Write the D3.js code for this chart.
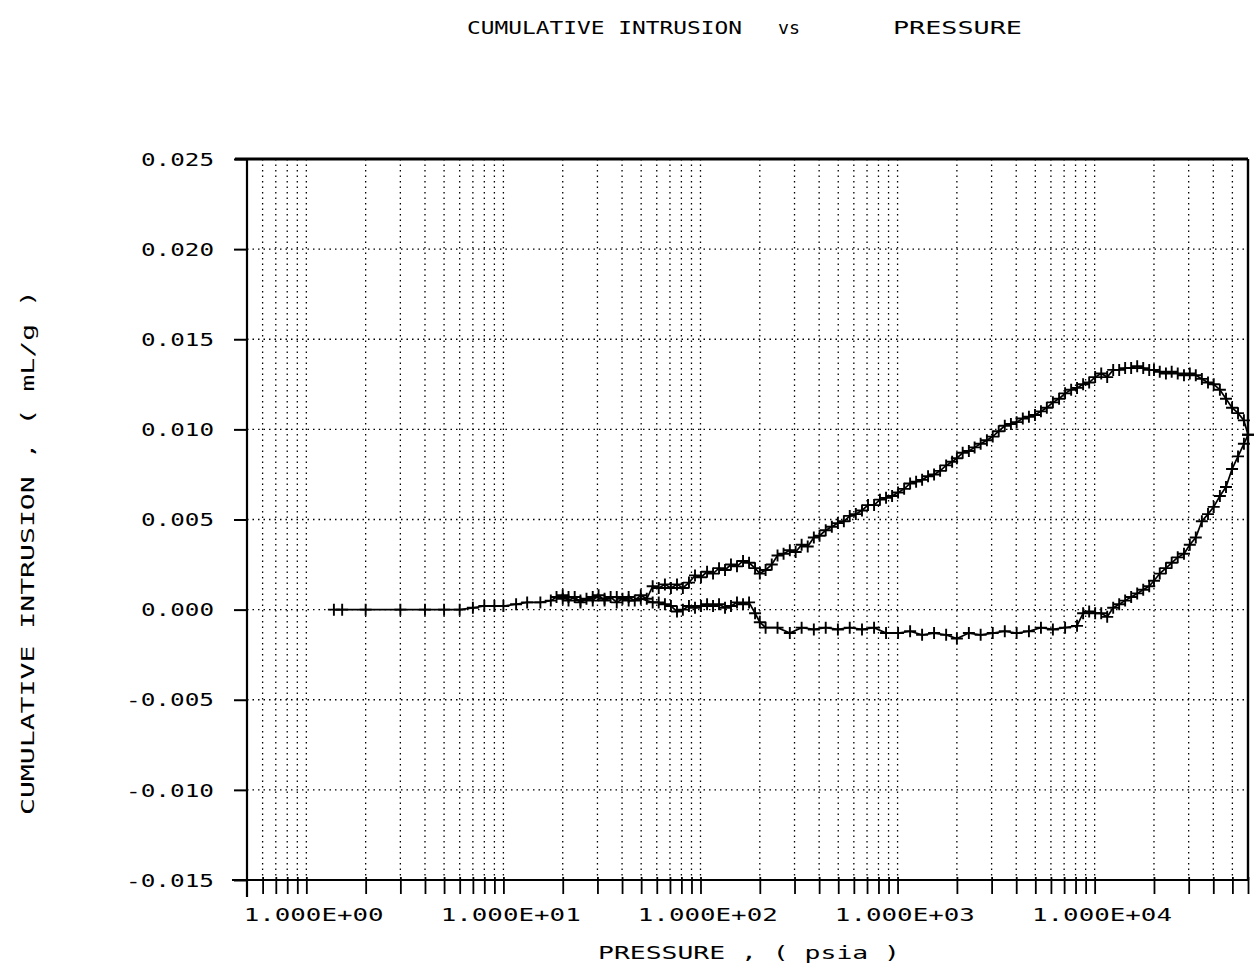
<!DOCTYPE html>
<html>
<head>
<meta charset="utf-8">
<script src="https://cdn.jsdelivr.net/npm/d3@7"></script>
<style>
  body { margin: 0; background: #fff; }
  svg { display: block; }
  text { font-family: "DejaVu Sans Mono", "Liberation Mono", monospace; fill: #000; font-variant-numeric: slashed-zero; }
</style>
</head>
<body>
<svg id="chart" width="1257" height="973"></svg>
<script>
// ---- data -------------------------------------------------------------
const xTickValues = [1, 10, 100, 1000, 10000];
const xTickLabels = ["1.000E+00", "1.000E+01", "1.000E+02", "1.000E+03", "1.000E+04"];
const yTickValues = [-0.015, -0.010, -0.005, 0.000, 0.005, 0.010, 0.015, 0.020, 0.025];
const yTickLabels = ["-0.015", "-0.010", "-0.005", "0.000", "0.005", "0.010", "0.015", "0.020", "0.025"];
const gridMantissas = [1, 1.5, 2, 2.5, 3, 3.5, 4, 4.5, 5];
const gridDecades = [0.1, 1, 10, 100, 1000, 10000];
const pressureRange = [0.25, 30000];
const volumeRange = [-0.015, 0.025];

// intrusion (increasing pressure), psia
const intrusionPressure = [
  0.69, 0.76, 1.0, 1.5, 2.0, 2.5, 3.0, 3.5, 4.0, 4.5, 5.0, 5.8, 6.6, 7.7, 8.7, 9.3,
  10.0, 10.7, 11.5, 12.3, 13.2, 14.2, 15.2, 16.3, 17.5, 18.8, 20.1, 21.6, 23.2, 24.9, 26.7, 28.6,
  30.7, 33.0, 35.4, 38.0, 40.7, 43.7, 46.9, 50.3, 54.0, 57.9, 62.1, 66.6, 71.4, 76.6, 82.2, 88.2, 94.6,
  100, 107, 115, 123, 132, 142, 152, 163, 175, 188, 201, 216, 232, 249, 267, 286,
  307, 330, 354, 380, 407, 437, 469, 503, 540, 579, 621, 666, 714, 766, 822, 882, 946,
  1000, 1070, 1150, 1230, 1320, 1420, 1520, 1630, 1750, 1880, 2010, 2160, 2320, 2490, 2670, 2860,
  3070, 3300, 3540, 3800, 4070, 4370, 4690, 5030, 5400, 5790, 6210, 6660, 7140, 7660, 8220, 8820, 9460,
  10000, 10700, 11500, 12300, 13200, 14200, 15200, 16300, 17500, 18800, 20100, 21600, 23200, 24900,
  26700, 28600, 30000
];
// cumulative intrusion, mL/g
const intrusionVolume = [
  0, 0, 0, 0, 0, 0, 0, 0.0001, 0.0002, 0.0002, 0.0002, 0.0003, 0.0004, 0.0004, 0.0005, 0.0007,
  0.0008, 0.0005, 0.0007, 0.0004, 0.0006, 0.0005, 0.0008, 0.0005, 0.0007, 0.0004, 0.0006, 0.0007, 0.0005, 0.0008, 0.0006, 0.0013,
  0.0012, 0.0014, 0.0012, 0.0014, 0.0012, 0.0015, 0.0019, 0.0018, 0.0021, 0.0020, 0.0023, 0.0022, 0.0025, 0.0024, 0.0027, 0.0026, 0.0023,
  0.0020, 0.0022, 0.0025, 0.0030, 0.0031, 0.0033, 0.0032, 0.0036, 0.0035, 0.0040, 0.0041, 0.0044, 0.0046, 0.0048, 0.0049, 0.0052,
  0.0053, 0.0055, 0.0058, 0.0058, 0.0061, 0.0062, 0.0063, 0.0065, 0.0067, 0.0070, 0.0071, 0.0072, 0.0074, 0.0075, 0.0077, 0.0080, 0.0082,
  0.0084, 0.0087, 0.0088, 0.0090, 0.0092, 0.0094, 0.0096, 0.0099, 0.0102, 0.0103, 0.0104, 0.0106, 0.0107, 0.0108, 0.0110, 0.0112,
  0.0115, 0.0117, 0.0120, 0.0122, 0.0123, 0.0125, 0.0126, 0.0129, 0.0131, 0.0129, 0.0133, 0.0133, 0.0134, 0.0134, 0.0135, 0.0134, 0.0133,
  0.0133, 0.0132, 0.0131, 0.0132, 0.0131, 0.0130, 0.0131, 0.0130, 0.0128, 0.0126, 0.0125, 0.0122, 0.0117, 0.0112,
  0.0109, 0.0105, 0.0097
];

// extrusion (decreasing pressure), psia
const extrusionPressure = [
  30000, 28600, 26700, 24900, 23200, 21600, 20100, 18800, 17500, 16300, 15200, 14200, 13200, 12300, 11500, 10700, 10000,
  9460, 8820, 8220, 7660, 7140, 6660, 6210, 5790, 5400, 5030, 4690, 4370, 4070, 3540, 3070, 2670, 2320, 2010, 1750, 1520, 1320, 1150,
  1000, 882, 766, 666, 579, 503, 437, 380, 330, 286, 249, 216, 188, 163, 142, 123, 107,
  100, 94.6, 88.2, 82.2, 76.6, 71.4, 66.6, 62.1, 57.9, 54.0, 50.3, 46.9, 43.7, 40.7, 38.0, 35.4, 33.0, 30.7, 28.6,
  24.9, 21.6, 18.8, 16.3, 14.2, 12.3, 10.7, 10.0
];
// cumulative intrusion on extrusion, mL/g
const extrusionVolume = [
  0.0097, 0.0092, 0.0085, 0.0078, 0.0068, 0.0063, 0.0057, 0.0053, 0.0049, 0.0040, 0.0036, 0.0031, 0.0029, 0.0026, 0.0023, 0.0020, 0.0016,
  0.0013, 0.0011, 0.0009, 0.0007, 0.0005, 0.0003, 0.0001, -0.0004, -0.0002, -0.0002, -0.0001, -0.0002, -0.0009, -0.0010, -0.0011, -0.0010, -0.0012, -0.0013, -0.0012, -0.0013, -0.0014, -0.0013,
  -0.0016, -0.0014, -0.0013, -0.0014, -0.0012, -0.0013, -0.0013, -0.0010, -0.0011, -0.0010, -0.0011, -0.0010, -0.0011, -0.0010, -0.0013, -0.0010, -0.0010,
  -0.0007, -0.0002, 0.0004, 0.0003, 0.0004, 0.0002, 0.0001, 0.0003, 0.0002, 0.0003, 0.0002, 0.0001, 0.0002, 0.0000, -0.0001, 0.0002, 0.0003, 0.0004, 0.0004,
  0.0006, 0.0005, 0.0007, 0.0006, 0.0007, 0.0005, 0.0007, 0.0006
];

// ---- layout -----------------------------------------------------------
const svg = d3.select("#chart");
const plot = { left: 247, right: 1248, top: 159, bottom: 880 };

const x = d3.scaleLog().domain(pressureRange).range([plot.left, plot.right]);
const y = d3.scaleLinear().domain(volumeRange).range([plot.bottom, plot.top]);

svg.append("rect").attr("width", 1257).attr("height", 973).attr("fill", "#fff");

// grid values: 1, 1.5 ... 5 in every decade, strictly inside the axis range
const gridValues = [];
gridDecades.forEach(d => gridMantissas.forEach(m => {
  const v = +(d * m).toPrecision(6);
  if (v > pressureRange[0] && v < pressureRange[1]) gridValues.push(v);
}));

// dotted grid
const grid = svg.append("g").attr("stroke", "#000").attr("stroke-width", 1.3)
  .attr("stroke-dasharray", "1.5,4");
grid.selectAll("line.v").data(gridValues).join("line")
  .attr("class", "v")
  .attr("x1", d => x(d)).attr("x2", d => x(d))
  .attr("y1", plot.top).attr("y2", plot.bottom);
grid.selectAll("line.h").data(yTickValues.filter(v => v > volumeRange[0] && v < volumeRange[1])).join("line")
  .attr("class", "h")
  .attr("x1", plot.left).attr("x2", plot.right)
  .attr("y1", d => y(d)).attr("y2", d => y(d));

// bottom axis: ticks at every grid value, labels only at decades
const xAxis = d3.axisBottom(x).tickValues(gridValues.concat([pressureRange[1]])).tickSize(14).tickFormat("");
const gx = svg.append("g").attr("transform", `translate(0,${plot.bottom})`).call(xAxis);
gx.select(".domain").remove();
gx.selectAll(".tick line").attr("y1", -3).attr("stroke", "#000").attr("stroke-width", 1.8);

svg.append("g").selectAll("text").data(xTickValues).join("text")
  .attr("x", d => x(d) + 18)
  .attr("y", 921)
  .attr("text-anchor", "end")
  .attr("font-size", 17)
  .attr("textLength", 140)
  .attr("lengthAdjust", "spacingAndGlyphs")
  .text((d, i) => xTickLabels[i]);

// left axis
const yAxis = d3.axisLeft(y).tickValues(yTickValues).tickSize(13).tickPadding(20)
  .tickFormat((d, i) => yTickLabels[i]);
const gy = svg.append("g").attr("transform", `translate(${plot.left},0)`).call(yAxis);
gy.select(".domain").remove();
gy.selectAll(".tick line").attr("stroke", "#000").attr("stroke-width", 2);
gy.selectAll(".tick text")
  .attr("font-size", 17)
  .attr("font-family", "DejaVu Sans Mono, monospace")
  .attr("fill", "#000")
  .attr("dy", "0.36em")
  .attr("textLength", (d, i) => yTickLabels[i].length * 15 - 2)
  .attr("lengthAdjust", "spacingAndGlyphs");

// frame
const frame = svg.append("g").attr("stroke", "#000").attr("fill", "none");
frame.append("line").attr("x1", 235).attr("x2", plot.right).attr("y1", plot.top).attr("y2", plot.top).attr("stroke-width", 3);
frame.append("line").attr("x1", plot.right).attr("x2", plot.right).attr("y1", plot.top).attr("y2", plot.bottom).attr("stroke-width", 2.4);
frame.append("line").attr("x1", 232).attr("x2", plot.right).attr("y1", plot.bottom).attr("y2", plot.bottom).attr("stroke-width", 2);
frame.append("line").attr("x1", plot.left).attr("x2", plot.left).attr("y1", plot.top).attr("y2", 897).attr("stroke-width", 2.2);

// curves with "+" markers
const series = [
  intrusionPressure.map((p, i) => [p, intrusionVolume[i]]),
  extrusionPressure.map((p, i) => [p, extrusionVolume[i]])
];
const line = d3.line().x(d => x(d[0])).y(d => y(d[1]));
const curves = svg.append("g");
series.forEach(pts => {
  curves.append("path").attr("d", line(pts))
    .attr("fill", "none").attr("stroke", "#000").attr("stroke-width", 1.7);
  curves.append("g").selectAll("path").data(pts).join("path")
    .attr("transform", d => `translate(${x(d[0])},${y(d[1])})`)
    .attr("d", "M-6,0H6M0,-6V6")
    .attr("stroke", "#000").attr("stroke-width", 1.9).attr("fill", "none");
});

// titles
const title = svg.append("text").attr("y", 34).attr("font-size", 17);
title.append("tspan").attr("x", 467).attr("textLength", 275).attr("lengthAdjust", "spacingAndGlyphs").text("CUMULATIVE INTRUSION");
title.append("tspan").attr("x", 778).attr("textLength", 22).attr("lengthAdjust", "spacingAndGlyphs").text("vs");
title.append("tspan").attr("x", 893).attr("textLength", 129).attr("lengthAdjust", "spacingAndGlyphs").text("PRESSURE");

svg.append("text")
  .attr("x", 598).attr("y", 959).attr("font-size", 17)
  .attr("textLength", 302).attr("lengthAdjust", "spacingAndGlyphs")
  .text("PRESSURE , ( psia )");

svg.append("text")
  .attr("transform", "translate(34,815) rotate(-90)")
  .attr("font-size", 17)
  .attr("textLength", 525).attr("lengthAdjust", "spacingAndGlyphs")
  .text("CUMULATIVE INTRUSION , ( mL/g )");
</script>
</body>
</html>
